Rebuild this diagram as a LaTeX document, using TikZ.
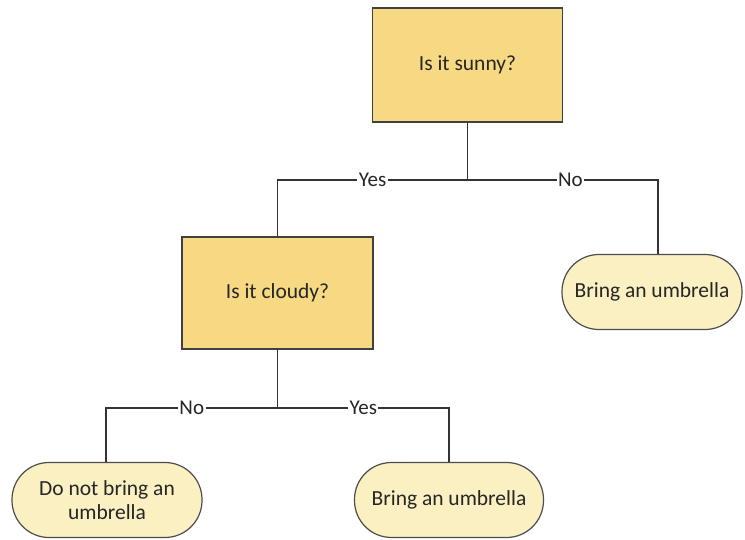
\documentclass[tikz,border=0pt]{standalone}
\usepackage{fontspec}
\setmainfont{Carlito}
\begin{document}
\begin{tikzpicture}[x=1pt,y=-1pt,
  every node/.style={font=\fontsize{21.5}{24}\selectfont, text=black!85},
  question/.style={draw=black!75, line width=1.3pt, fill=qfill, minimum width=190, minimum height=114, inner sep=0},
  answer/.style={draw=black!70, line width=1.2pt, fill=afill, rounded corners=37, minimum height=75, inner sep=0, align=center},
  link/.style={draw=black!80, line width=1.4pt},
  choice/.style={fill=white, inner sep=1.5pt, font=\fontsize{21}{24}\selectfont}
]
\definecolor{qfill}{HTML}{F6D982}
\definecolor{afill}{HTML}{FBF0C2}
\useasboundingbox (0,0) rectangle (745,540);

% decisions
\node[question] (sunny)  at (467.5,65)  {Is it sunny?};
\node[question, minimum width=191, minimum height=112] (cloudy) at (277.5,293) {Is it cloudy?};

% outcomes
\node[answer, minimum width=180] (leafR) at (652,292) {Bring an umbrella};
\node[answer, minimum width=190] (leafL) at (107,500) {Do not bring an\\umbrella};
\node[answer, minimum width=189] (leafM) at (449,500) {Bring an umbrella};

% branch points
\coordinate (j1) at (sunny.south |- 0,180);
\coordinate (j2) at (cloudy.south |- 0,408);

% connectors
\draw[link] (sunny.south) -- (j1);
\draw[link] (j1) -| node[choice, pos=0.25] {Yes} (cloudy.north);
\draw[link] (j1) -| node[choice, pos=0.27] {No} ([xshift=6]leafR.north);
\draw[link] (cloudy.south) -- (j2);
\draw[link] (j2) -| node[choice, pos=0.25] {No} ([xshift=-1]leafL.north);
\draw[link] (j2) -| node[choice, pos=0.25] {Yes} (leafM.north);
\end{tikzpicture}
\end{document}
